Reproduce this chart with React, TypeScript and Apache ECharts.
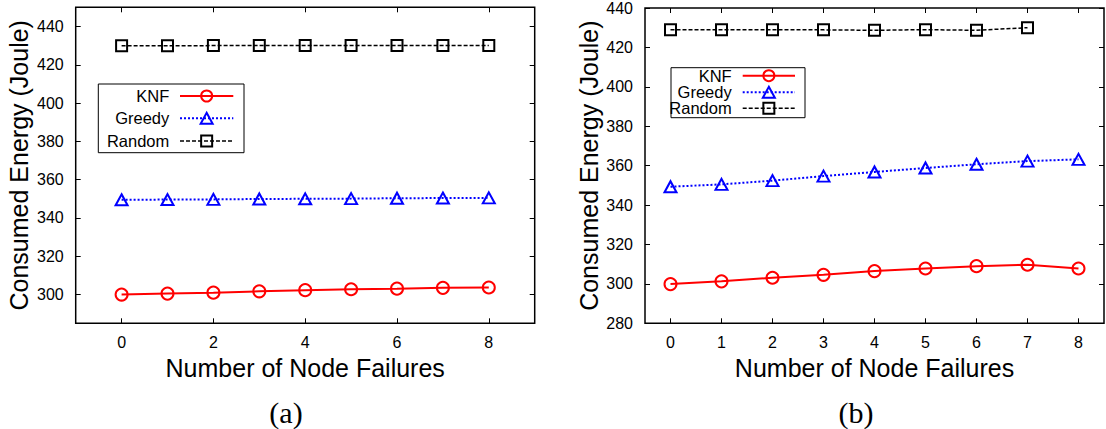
import React, { useEffect, useRef } from "react";
import * as echarts from "echarts";

// ---- data ----
const xA = [0, 1, 2, 3, 4, 5, 6, 7, 8];
const knfA = [300.0, 300.5, 301.0, 301.7, 302.3, 302.8, 303.1, 303.5, 303.7];
const greedyA = [349.5, 349.6, 349.7, 349.9, 350.0, 350.1, 350.3, 350.4, 350.5];
const randomA = [429.9, 429.9, 430.0, 430.0, 430.0, 430.1, 430.0, 430.0, 430.0];

const xB = [0, 1, 2, 3, 4, 5, 6, 7, 8];
const knfB = [299.9, 301.3, 303.1, 304.6, 306.5, 307.8, 309.0, 309.7, 307.8];
const greedyB = [349.3, 350.5, 352.4, 354.7, 356.8, 358.8, 360.7, 362.3, 363.2];
const randomB = [429.0, 429.0, 428.9, 428.9, 428.7, 429.0, 428.7, 430.0];

const yTicksA = [300, 320, 340, 360, 380, 400, 420, 440];
const xTicksA = [0, 2, 4, 6, 8];
const yTicksB = [280, 300, 320, 340, 360, 380, 400, 420, 440];
const xTicksB = [0, 1, 2, 3, 4, 5, 6, 7, 8];

const seriesNames = ["KNF", "Greedy", "Random"];
const xTitle = "Number of Node Failures";
const yTitle = "Consumed Energy (Joule)";
const panelLabels = ["(a)", "(b)"];

const FONT = "Liberation Sans";
const RED = "#ff0000";
const BLUE = "#0000ff";
const BLACK = "#000000";

const pairs = (xs: number[], ys: number[]) => ys.map((y, i) => [xs[i], y]);

const styles = [
  { color: RED, type: "solid" as any, width: 2, symbol: "circle", size: 12 as any },
  { color: BLUE, type: [2, 2] as any, width: 2, symbol: "triangle", size: [12, 11] as any },
  { color: BLACK, type: [4, 2] as any, width: 1.5, symbol: "rect", size: 11 as any },
];

function mkSeries(name: string, idx: number, data: number[][], axis: number) {
  const s = styles[idx];
  return {
    type: "line",
    name,
    xAxisIndex: axis,
    yAxisIndex: axis,
    data,
    symbol: s.symbol,
    symbolSize: s.size,
    showAllSymbol: true,
    lineStyle: { color: s.color, width: s.width, type: s.type },
    itemStyle: { color: "rgba(0,0,0,0)", borderColor: s.color, borderWidth: 2 },
    z: 3 - idx,
  };
}

const tickStyle = (ticks: number[]) => ({
  show: true,
  inside: true,
  length: 5,
  customValues: ticks,
  lineStyle: { color: BLACK, width: 1 },
});

function xAxes(gridIndex: number, min: number, max: number, ticks: number[]) {
  const base = {
    type: "value",
    gridIndex,
    min,
    max,
    splitLine: { show: false },
    axisLine: { show: false, onZero: false },
  };
  return [
    {
      ...base,
      position: "bottom",
      name: xTitle,
      nameLocation: "middle",
      nameGap: 31,
      nameTextStyle: { fontFamily: FONT, fontSize: 25, color: BLACK },
      axisTick: tickStyle(ticks),
      axisLabel: { show: true, customValues: ticks, margin: 11, fontFamily: FONT, fontSize: 16, color: BLACK },
    },
    {
      ...base,
      position: "top",
      axisTick: tickStyle(ticks),
      axisLabel: { show: false, customValues: ticks },
    },
  ];
}

function yAxes(gridIndex: number, min: number, max: number, ticks: number[]) {
  const base = {
    type: "value",
    gridIndex,
    min,
    max,
    splitLine: { show: false },
    axisLine: { show: false, onZero: false },
  };
  return [
    {
      ...base,
      position: "left",
      name: yTitle,
      nameLocation: "middle",
      nameGap: 44,
      nameRotate: 90,
      nameTextStyle: { fontFamily: FONT, fontSize: 25, color: BLACK },
      axisTick: tickStyle(ticks),
      axisLabel: { show: true, customValues: ticks, margin: 12, fontFamily: FONT, fontSize: 16, color: BLACK },
    },
    {
      ...base,
      position: "right",
      axisTick: tickStyle(ticks),
      axisLabel: { show: false, customValues: ticks },
    },
  ];
}

function legend(box: number[], textRight: number, lx1: number, lx2: number, rows: number[]) {
  const els: any[] = [
    {
      type: "rect",
      shape: { x: box[0], y: box[1], width: box[2], height: box[3] },
      style: { fill: "#fff", stroke: BLACK, lineWidth: 1 },
      z: 10,
    },
  ];
  const cx = (lx1 + lx2) / 2;
  seriesNames.forEach((n, i) => {
    const y = rows[i];
    const s = styles[i];
    els.push({
      type: "text",
      x: textRight,
      y,
      style: { text: n, fontFamily: FONT, fontSize: 16.5, fill: BLACK, align: "right", verticalAlign: "middle" },
      z: 11,
    });
    els.push({
      type: "line",
      shape: { x1: lx1, y1: y, x2: lx2, y2: y },
      style: { stroke: s.color, lineWidth: s.width, lineDash: Array.isArray(s.type) ? s.type : null },
      z: 11,
    });
    if (i === 0) {
      els.push({ type: "circle", shape: { cx, cy: y, r: 5.5 }, style: { fill: "none", stroke: s.color, lineWidth: 2 }, z: 12 });
    } else if (i === 1) {
      els.push({
        type: "polygon",
        shape: { points: [[cx, y - 5.5], [cx + 6, y + 5.5], [cx - 6, y + 5.5]] },
        style: { fill: "none", stroke: s.color, lineWidth: 2 },
        z: 12,
      });
    } else {
      els.push({ type: "rect", shape: { x: cx - 5.5, y: y - 5.5, width: 11, height: 11 }, style: { fill: "none", stroke: s.color, lineWidth: 2 }, z: 12 });
    }
  });
  return els;
}

export default function App() {
  const ref = useRef<HTMLDivElement>(null);
  useEffect(() => {
    if (!ref.current) return;
    const chart = echarts.init(ref.current, null, { renderer: "svg" });
    const gridBase = { show: true, borderColor: BLACK, borderWidth: 1.5, backgroundColor: "transparent", containLabel: false };
    chart.setOption({
      animation: false,
      backgroundColor: "#ffffff",
      textStyle: { fontFamily: FONT },
      grid: [
        { ...gridBase, left: 75.7, top: 7.3, width: 459, height: 316 },
        { ...gridBase, left: 645, top: 7.3, width: 459, height: 316 },
      ],
      xAxis: [...xAxes(0, -1, 9, xTicksA), ...xAxes(1, -0.5, 8.5, xTicksB)],
      yAxis: [...yAxes(0, 285, 450, yTicksA), ...yAxes(1, 280, 440, yTicksB)],
      series: [
        mkSeries(seriesNames[0], 0, pairs(xA, knfA), 0),
        mkSeries(seriesNames[1], 1, pairs(xA, greedyA), 0),
        mkSeries(seriesNames[2], 2, pairs(xA, randomA), 0),
        mkSeries(seriesNames[0], 0, pairs(xB, knfB), 2),
        mkSeries(seriesNames[1], 1, pairs(xB, greedyB), 2),
        mkSeries(seriesNames[2], 2, pairs(xB, randomB), 2),
      ],
      graphic: [
        ...legend([98.3, 84, 145.7, 68.7], 169.3, 180, 233.3, [96, 118.3, 141]),
        ...legend([671, 67.7, 134, 50], 731.7, 742.7, 795, [75.7, 92.3, 108.3]),
        {
          type: "text",
          x: 286,
          y: 412,
          style: { text: panelLabels[0], fontFamily: "Liberation Serif", fontSize: 30, fill: BLACK, align: "center", verticalAlign: "middle" },
        },
        {
          type: "text",
          x: 856,
          y: 412,
          style: { text: panelLabels[1], fontFamily: "Liberation Serif", fontSize: 30, fill: BLACK, align: "center", verticalAlign: "middle" },
        },
      ],
    });
    return () => chart.dispose();
  }, []);
  return <div ref={ref} style={{ position: "fixed", left: 0, top: 0, width: 1106, height: 429 }} />;
}
